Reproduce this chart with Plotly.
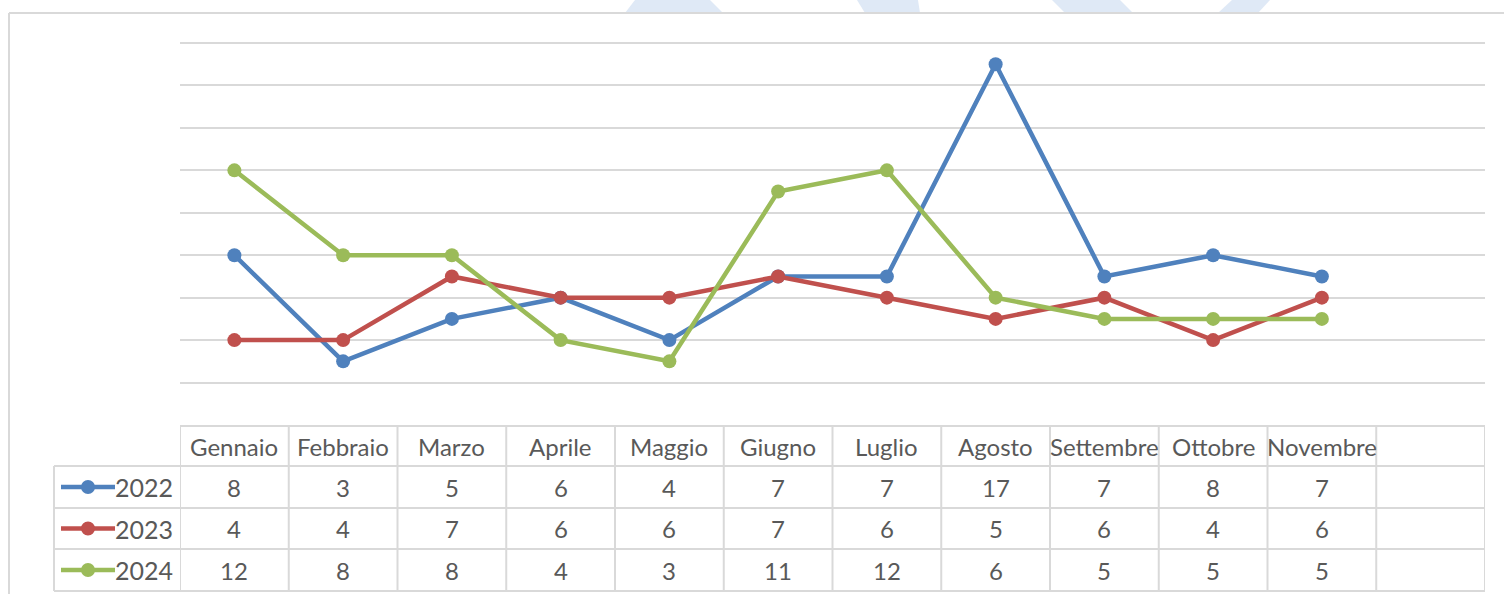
import plotly.graph_objects as go

months = ["Gennaio", "Febbraio", "Marzo", "Aprile", "Maggio", "Giugno",
          "Luglio", "Agosto", "Settembre", "Ottobre", "Novembre"]
series_names = ["2022", "2023", "2024"]
v2022 = [8, 3, 5, 6, 4, 7, 7, 17, 7, 8, 7]
v2023 = [4, 4, 7, 6, 6, 7, 6, 5, 6, 4, 6]
v2024 = [12, 8, 8, 4, 3, 11, 12, 6, 5, 5, 5]
colors = ["#4F81BD", "#C0504D", "#9BBB59"]
all_values = [v2022, v2023, v2024]
n_cols = 12  # 11 months + one empty column

W, H = 1504, 594
FONT = "Lato"
TXT = "#595959"
GRID = "#D9D9D9"


def px(x):
    return x / W


def py(y):
    return 1 - y / H


fig = go.Figure()
xs = list(range(len(months)))
for name, vals, c in zip(series_names, all_values, colors):
    fig.add_trace(go.Scatter(
        x=xs, y=vals, mode="lines+markers", name=name,
        line=dict(color=c, width=4.5),
        marker=dict(color=c, size=14),
        showlegend=False, cliponaxis=False))

shapes = []
annotations = []

# watermark shapes at the top
wm = "#DFE9F6"
wm_polys = [
    [(625, 13), (723, 13), (710, 0), (635, 0)],
    [(865, 13), (920, 13), (918, 0), (857, 0)],
    [(1065, 13), (1133, 13), (1120, 0), (1052, 0)],
    [(1218, 13), (1258, 13), (1270, 0), (1232, 0)],
]
for poly in wm_polys:
    path = "M " + " L ".join(f"{px(a):.5f},{py(b):.5f}" for a, b in poly) + " Z"
    shapes.append(dict(type="path", path=path, xref="paper", yref="paper",
                       fillcolor=wm, line=dict(width=0), layer="below"))

# outer chart border
shapes.append(dict(type="line", xref="paper", yref="paper", x0=px(9), x1=px(9),
                   y0=py(13), y1=0, line=dict(color=GRID, width=2)))
shapes.append(dict(type="line", xref="paper", yref="paper", x0=px(9), x1=1,
                   y0=py(13), y1=py(13), line=dict(color=GRID, width=2)))

# data table
row_tops = [426, 466, 508, 549, 591]
tcol = dict(color=GRID, width=2)
# horizontal lines
shapes.append(dict(type="line", xref="x", yref="paper", x0=-0.5, x1=n_cols - 0.5,
                   y0=py(row_tops[0]), y1=py(row_tops[0]), line=tcol))
for r in row_tops[1:]:
    shapes.append(dict(type="line", xref="paper", yref="paper", x0=px(54), x1=px(1485),
                       y0=py(r), y1=py(r), line=tcol))
# vertical lines
for k in range(n_cols + 1):
    shapes.append(dict(type="line", xref="x", yref="paper", x0=k - 0.5, x1=k - 0.5,
                       y0=py(row_tops[0]), y1=py(row_tops[-1]), line=tcol))
shapes.append(dict(type="line", xref="paper", yref="paper", x0=px(54), x1=px(54),
                   y0=py(row_tops[1]), y1=py(row_tops[-1]), line=tcol))

fs = 24
# header
for i, m in enumerate(months):
    annotations.append(dict(x=i, y=py((row_tops[0] + row_tops[1]) / 2), xref="x", yref="paper",
                            text=m, showarrow=False, font=dict(family=FONT, size=fs, color=TXT),
                            xanchor="center", yanchor="middle"))
# rows
for r, (name, vals, c) in enumerate(zip(series_names, all_values, colors)):
    yc = (row_tops[r + 1] + row_tops[r + 2]) / 2
    # legend key
    shapes.append(dict(type="line", xref="paper", yref="paper", x0=px(61), x1=px(115),
                       y0=py(yc), y1=py(yc), line=dict(color=c, width=4.5)))
    shapes.append(dict(type="circle", xref="paper", yref="paper",
                       x0=px(88 - 7), x1=px(88 + 7), y0=py(yc + 7), y1=py(yc - 7),
                       fillcolor=c, line=dict(width=0)))
    annotations.append(dict(x=px(175), y=py(yc), xref="paper", yref="paper", text=name,
                            showarrow=False, font=dict(family=FONT, size=fs + 1, color=TXT),
                            xanchor="right", yanchor="middle"))
    for i, v in enumerate(vals):
        annotations.append(dict(x=i, y=py(yc), xref="x", yref="paper", text=str(v),
                                showarrow=False, font=dict(family=FONT, size=fs, color=TXT),
                                xanchor="center", yanchor="middle"))

unit = (425 - 43) / 18.0
ymax = 18.5
fig.update_layout(
    width=W, height=H,
    margin=dict(l=0, r=0, t=0, b=0),
    paper_bgcolor="white", plot_bgcolor="white",
    xaxis=dict(domain=[px(180), px(1485)], range=[-0.5, n_cols - 0.5],
               showgrid=False, zeroline=False, showticklabels=False, showline=False),
    yaxis=dict(domain=[py(425), py(425 - ymax * unit)], range=[0, ymax], dtick=2, tick0=0,
               showgrid=True, gridcolor=GRID, gridwidth=2, zeroline=False,
               showticklabels=False, showline=False),
    shapes=shapes, annotations=annotations,
    font=dict(family=FONT, color=TXT),
)

fig.write_html("out.html", post_script="document.body.style.margin='0';",
               config={"displayModeBar": False})
